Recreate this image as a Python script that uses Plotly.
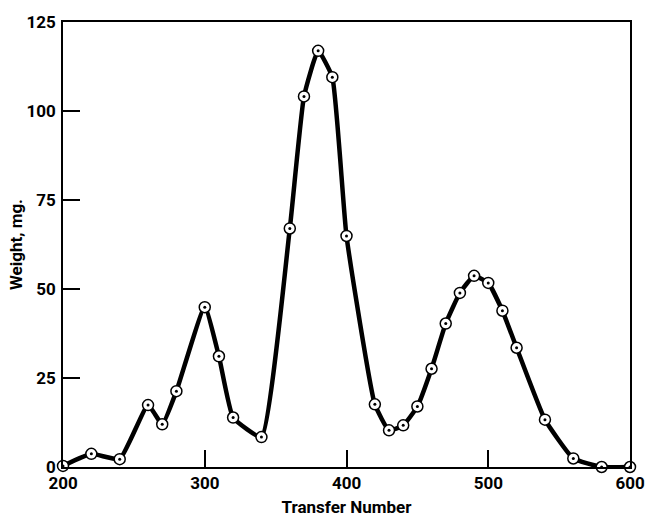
import plotly.graph_objects as go

transfer = [200, 220, 240, 260, 270, 280, 300, 310, 320, 340, 360, 370, 380, 390, 400,
            420, 430, 440, 450, 460, 470, 480, 490, 500, 510, 520, 540, 560, 580, 600]
weight = [0.3, 3.7, 2.2, 17.4, 12.0, 21.3, 44.9, 31.1, 13.9, 8.4, 67.0, 104.1, 116.9, 109.5, 64.9,
          17.6, 10.3, 11.7, 17.0, 27.6, 40.3, 48.9, 53.7, 51.7, 43.9, 33.5, 13.3, 2.4, 0.0, 0.0]

x_ticks = [200, 300, 400, 500, 600]
y_ticks = [0, 25, 50, 75, 100, 125]

FONT = "Roboto, Liberation Sans, sans-serif"

fig = go.Figure()
fig.add_trace(go.Scatter(x=transfer, y=weight, mode="lines",
                         line=dict(color="black", width=4.5, shape="spline", smoothing=0.4),
                         hoverinfo="skip", showlegend=False))
fig.add_trace(go.Scatter(x=transfer, y=weight, mode="markers", cliponaxis=False,
                         marker=dict(symbol="circle", size=11, color="white",
                                     line=dict(color="black", width=1.5)),
                         showlegend=False))
fig.add_trace(go.Scatter(x=transfer, y=weight, mode="markers", cliponaxis=False,
                         marker=dict(symbol="circle", size=3, color="black"),
                         hoverinfo="skip", showlegend=False))

axis_common = dict(showgrid=False, zeroline=False, showline=True, linecolor="black",
                   linewidth=1.5, mirror=True, ticks="inside", ticklen=17, tickwidth=1.5,
                   tickcolor="black", automargin=False,
                   tickfont=dict(family=FONT, size=17, color="black", weight="bold"))

fig.update_xaxes(range=[200, 600], tickvals=x_ticks, ticktext=[str(v) for v in x_ticks],
                 title=dict(text="Transfer Number", standoff=9,
                            font=dict(family=FONT, size=17, color="black", weight="bold")),
                 **axis_common)
fig.update_yaxes(range=[0, 125], tickvals=y_ticks, ticktext=[str(v) for v in y_ticks],
                 ticklabelstandoff=2,
                 title=dict(text="Weight, mg.", standoff=0,
                            font=dict(family=FONT, size=17, color="black", weight="bold")),
                 **axis_common)

fig.update_layout(width=647, height=518, plot_bgcolor="white", paper_bgcolor="white",
                  margin=dict(l=63, r=17, t=22, b=51), showlegend=False)

fig.write_html("out.html", config={"displayModeBar": False},
               post_script="document.body.style.margin='0';document.body.style.overflow='hidden';")
